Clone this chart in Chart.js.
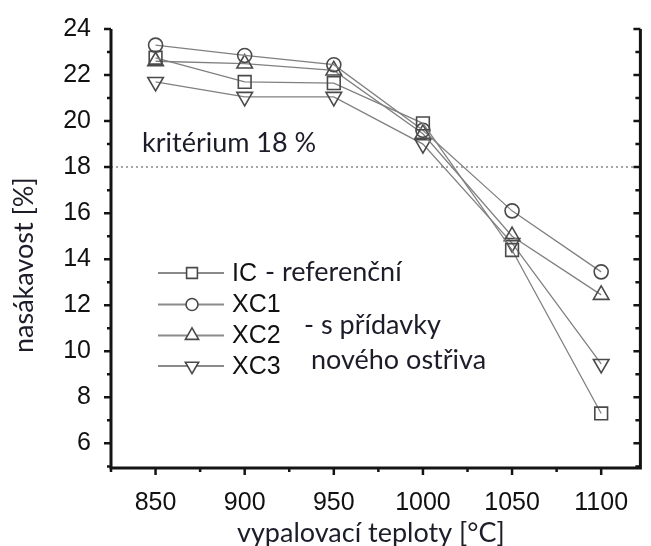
<!DOCTYPE html>
<html><head><meta charset="utf-8">
<script src="https://cdn.jsdelivr.net/npm/chart.js@4/dist/chart.umd.min.js"></script>
<style>html,body{margin:0;padding:0;background:#fff;}#wrap{width:651px;height:546px;}</style>
</head><body><div id="wrap"><canvas id="c" width="651" height="546"></canvas></div>
<script>
// ---- data ----
const temperatures = [850, 900, 950, 1000, 1050, 1100];
const seriesNames = ['IC', 'XC1', 'XC2', 'XC3'];
const icValues  = [22.75, 21.7, 21.65, 19.9, 14.4, 7.3];
const xc1Values = [23.3, 22.85, 22.45, 19.6, 16.1, 13.45];
const xc2Values = [22.6, 22.5, 22.2, 19.45, 15.0, 12.45];
const xc3Values = [21.7, 21.05, 21.05, 19.0, 14.7, 9.45];
const xTickValues = [850, 900, 950, 1000, 1050, 1100];
const xMinorTicks = [825, 875, 925, 975, 1025, 1075];
const yTickValues = [6, 8, 10, 12, 14, 16, 18, 20, 22, 24];
const yMinorTicks = [5, 7, 9, 11, 13, 15, 17, 19, 21, 23];
const criterionValue = 18;
const criterionLabel = 'kritérium 18 %';
const legendSuffixes = ['- referenční', '', '', ''];
const groupNote = ['- s přídavky', 'nového ostřiva'];
const xTitle = 'vypalovací teploty [°C]';
const yTitle = 'nasákavost [%]';

// ---- styles ----
const allValues = [icValues, xc1Values, xc2Values, xc3Values];
const pointStyles = ['rect', 'circle', 'triangle', 'triangle'];
const pointRotations = [0, 0, 0, 180];
const pointRadii = [9, 7, 9, 9];
const TICK_FONT = '"Liberation Sans", Arial, sans-serif';
const TEXT_FONT = 'Lato, "Open Sans", sans-serif';
const TEXT_COLOR = '#1d1d2a';
const AXIS_COLOR = '#141414';

const datasets = seriesNames.map((name, i) => ({
  label: name,
  data: temperatures.map((t, j) => ({ x: t, y: allValues[i][j] })),
  borderColor: '#808080',
  borderWidth: 1.3,
  pointStyle: pointStyles[i],
  pointRotation: pointRotations[i],
  pointRadius: pointRadii[i],
  pointBorderColor: '#4a4a4a',
  pointBackgroundColor: 'rgba(255,255,255,0)',
  pointBorderWidth: 1.6,
  tension: 0,
  clip: false
}));

const decor = {
  id: 'decor',
  beforeDatasetsDraw(chart) {
    const { ctx, chartArea: a, scales: { y } } = chart;
    const py = y.getPixelForValue(criterionValue);
    ctx.save();
    ctx.strokeStyle = '#a6a6a6';
    ctx.lineWidth = 2;
    ctx.setLineDash([2, 3]);
    ctx.beginPath(); ctx.moveTo(a.left, py); ctx.lineTo(a.right, py); ctx.stroke();
    ctx.restore();
  },
  afterDraw(chart) {
    const { ctx, chartArea: a, scales: { x, y } } = chart;
    ctx.save();
    // axes
    ctx.strokeStyle = AXIS_COLOR;
    ctx.lineWidth = 3;
    ctx.beginPath();
    ctx.moveTo(a.left, a.top); ctx.lineTo(a.left, a.bottom + 1.5);
    ctx.moveTo(a.left - 1.5, a.bottom); ctx.lineTo(a.right + 1.5, a.bottom);
    ctx.moveTo(a.right, a.top); ctx.lineTo(a.right, a.bottom);
    ctx.stroke();
    ctx.lineWidth = 2.5;
    ctx.beginPath();
    yTickValues.forEach(v => { const p = y.getPixelForValue(v);
      ctx.moveTo(a.left - 7, p); ctx.lineTo(a.left, p);
      ctx.moveTo(a.right - 7, p); ctx.lineTo(a.right, p); });
    yMinorTicks.forEach(v => { const p = y.getPixelForValue(v);
      ctx.moveTo(a.left - 4, p); ctx.lineTo(a.left, p);
      ctx.moveTo(a.right - 5, p); ctx.lineTo(a.right, p); });
    xTickValues.forEach(v => { const p = x.getPixelForValue(v);
      ctx.moveTo(p, a.bottom); ctx.lineTo(p, a.bottom + 7); });
    xMinorTicks.forEach(v => { const p = x.getPixelForValue(v);
      ctx.moveTo(p, a.bottom); ctx.lineTo(p, a.bottom + 4); });
    ctx.stroke();

    // criterion text
    ctx.fillStyle = TEXT_COLOR;
    ctx.font = '27px ' + TEXT_FONT;
    ctx.textAlign = 'left';
    ctx.textBaseline = 'alphabetic';
    ctx.fillText(criterionLabel, 142, 152);

    // legend
    const rowY = [273, 304.5, 335.5, 366];
    chart.data.datasets.forEach((ds, i) => {
      const yy = rowY[i];
      ctx.strokeStyle = '#8a8a8a';
      ctx.lineWidth = 2;
      ctx.setLineDash([]);
      ctx.beginPath(); ctx.moveTo(158, yy); ctx.lineTo(224, yy); ctx.stroke();
      ctx.strokeStyle = '#4a4a4a';
      ctx.lineWidth = 1.6;
      ctx.fillStyle = '#ffffff';
      Chart.helpers.drawPoint(ctx, {
        pointStyle: ds.pointStyle, rotation: ds.pointRotation,
        radius: ds.pointRadius * 0.85, borderWidth: 1.6
      }, 192, yy);
      ctx.fillStyle = '#111';
      ctx.font = '25px ' + TICK_FONT;
      ctx.textBaseline = 'middle';
      ctx.textAlign = 'left';
      ctx.fillText(ds.label, 232, yy + 1);
      if (legendSuffixes[i]) {
        ctx.fillStyle = TEXT_COLOR;
        ctx.font = '27px ' + TEXT_FONT;
        ctx.textBaseline = 'alphabetic';
        ctx.fillText(legendSuffixes[i], 265, yy + 8);
      }
    });
    ctx.fillStyle = TEXT_COLOR;
    ctx.font = '27px ' + TEXT_FONT;
    ctx.textBaseline = 'alphabetic';
    ctx.fillText(groupNote[0], 304, 334);
    ctx.fillText(groupNote[1], 311, 369);

    // axis titles
    ctx.fillText(xTitle, 237, 542);
    ctx.translate(33, 353);
    ctx.rotate(-Math.PI / 2);
    ctx.fillText(yTitle, 0, 0);
    ctx.restore();
  }
};

new Chart(document.getElementById('c'), {
  type: 'line',
  data: { datasets },
  options: {
    responsive: false, animation: false, devicePixelRatio: 1,
    layout: { padding: { left: 0, right: 5, top: 29, bottom: 0 } },
    plugins: { legend: { display: false }, tooltip: { enabled: false } },
    scales: {
      x: {
        type: 'linear', min: 825, max: 1122,
        grid: { display: false }, border: { display: false },
        afterBuildTicks: s => { s.ticks = xTickValues.map(v => ({ value: v })); },
        afterFit: s => { s.height = 78; },
        ticks: { font: { family: TICK_FONT, size: 25 }, color: '#111', padding: 12,
                 maxRotation: 0, autoSkip: false, callback: v => String(v) }
      },
      y: {
        type: 'linear', min: 4.93, max: 24,
        grid: { display: false }, border: { display: false },
        afterBuildTicks: s => { s.ticks = yTickValues.map(v => ({ value: v })); },
        afterFit: s => { s.width = 111; },
        ticks: { font: { family: TICK_FONT, size: 25 }, color: '#111', padding: 12,
                 autoSkip: false, callback: v => String(v) }
      }
    }
  },
  plugins: [decor]
});
</script></body></html>
